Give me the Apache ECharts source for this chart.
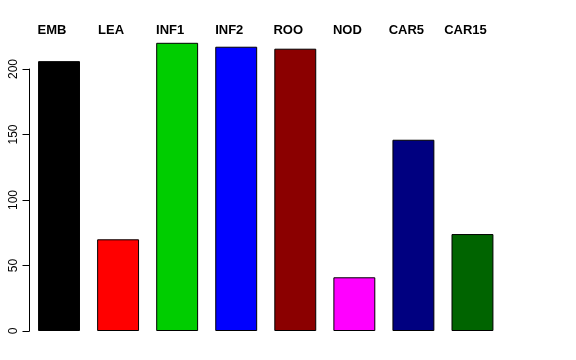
<!DOCTYPE html>
<html><head><meta charset="utf-8">
<script src="https://cdn.jsdelivr.net/npm/echarts@6/dist/echarts.min.js"></script>
<style>html,body{margin:0;padding:0;background:#fff}#c{width:576px;height:360px}</style>
</head><body><div id="c"></div>
<script>
var categories = ["EMB","LEA","INF1","INF2","ROO","NOD","CAR5","CAR15"];
var values = [206, 70, 220, 217, 215.5, 41, 146, 74];
var colors = ["#000000","#FF0000","#00CD00","#0000FF","#8B0000","#FF00FF","#000080","#006400"];
var yTicks = [0, 50, 100, 150, 200];

var chart = echarts.init(document.getElementById('c'), null, {renderer:'canvas'});
chart.setOption({
  animation:false,
  backgroundColor:'#fff',
  grid:{left:29.5, right:74, top:69, bottom:29},
  xAxis:[{
    type:'category', data:categories, position:'top',
    axisLine:{show:false}, axisTick:{show:false},
    axisLabel:{show:true, interval:0, margin:32, fontFamily:'Liberation Sans', fontWeight:'bold', fontSize:13, color:'#000', padding:[0,14,0,0]}
  }],
  yAxis:{
    type:'value', min:0, max:200, interval:50,
    axisLine:{show:true, lineStyle:{color:'#000', width:1}},
    axisTick:{show:true, length:7, lineStyle:{color:'#000'}},
    splitLine:{show:false},
    axisLabel:{rotate:90, margin:10, fontFamily:'Liberation Sans', fontSize:12, color:'#000',
      formatter:function(v){return yTicks.indexOf(v)>=0 ? String(v) : '';}}
  },
  series:[{
    type:'bar', clip:false, barCategoryGap:'29%',
    data: values.map(function(v,i){return {value:v, itemStyle:{color:colors[i]}};}),
    itemStyle:{borderColor:'#000', borderWidth:1}
  }]
});
</script></body></html>
